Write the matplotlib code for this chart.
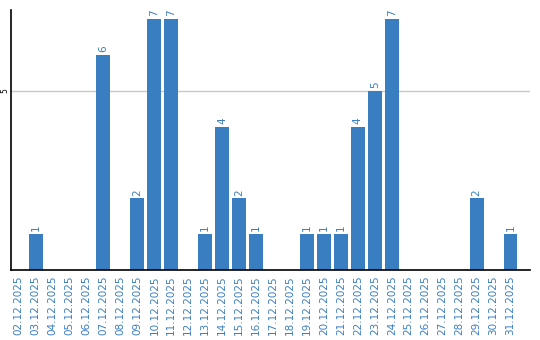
import matplotlib
matplotlib.use("Agg")
import matplotlib.pyplot as plt

tarihler = ["02.12.2025", "03.12.2025", "04.12.2025", "05.12.2025", "06.12.2025",
            "07.12.2025", "08.12.2025", "09.12.2025", "10.12.2025", "11.12.2025",
            "12.12.2025", "13.12.2025", "14.12.2025", "15.12.2025", "16.12.2025",
            "17.12.2025", "18.12.2025", "19.12.2025", "20.12.2025", "21.12.2025",
            "22.12.2025", "23.12.2025", "24.12.2025", "25.12.2025", "26.12.2025",
            "27.12.2025", "28.12.2025", "29.12.2025", "30.12.2025", "31.12.2025"]
degerler = [0, 1, 0, 0, 0, 6, 0, 2, 7, 7, 0, 1, 4, 2, 1, 0, 0, 1, 1, 1,
            4, 5, 7, 0, 0, 0, 0, 2, 0, 1]

mavi = "#3a7ec2"

fig = plt.figure(figsize=(5.4, 3.4), dpi=100)
ax = fig.add_axes([11 / 540, 70 / 340, 519 / 540, 260 / 340])

x = range(len(tarihler))
ax.bar(x, degerler, width=0.82, color=mavi, zorder=2)
for i, v in zip(x, degerler):
    if v > 0:
        ax.text(i, v + 0.08, str(v), rotation=90, ha="center", va="bottom",
                color=mavi, fontsize=7.5)

ax.set_xlim(-0.45, 30.15)
ax.set_ylim(0, 7.26)
ax.set_yticks([5])
ax.set_yticklabels(["5"], rotation=90, va="center", fontsize=5.5)
ax.grid(axis="y", color="#c8c8c8", linewidth=1, zorder=0)
ax.set_xticks(list(x))
ax.set_xticklabels(tarihler, rotation=90, color=mavi, fontsize=7.5)
ax.tick_params(length=0, pad=4)
ax.tick_params(axis="y", pad=1)
ax.spines["top"].set_visible(False)
ax.spines["right"].set_visible(False)
ax.spines["left"].set_linewidth(1.2)
ax.spines["bottom"].set_linewidth(1.2)

fig.savefig("out.png", dpi=100)
